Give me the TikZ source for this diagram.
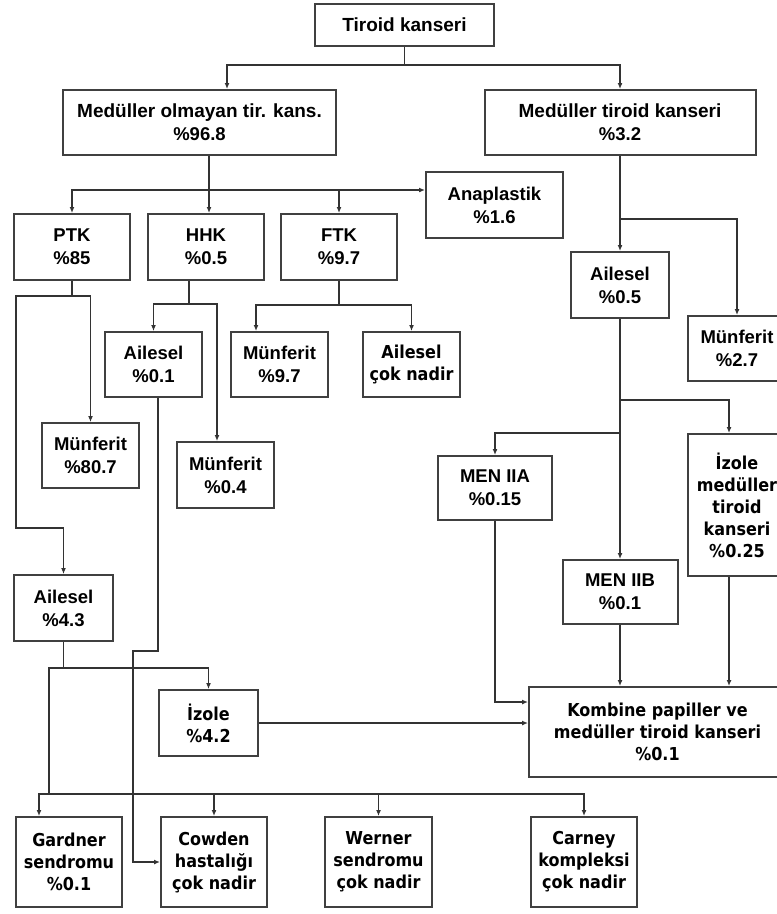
\documentclass[tikz,border=0pt]{standalone}
\usepackage{fontspec}
\setmainfont{Liberation Sans}
\newfontfamily\tahfont[FakeStretch=0.9]{DejaVu Sans}
\usepackage{tikz}
\usetikzlibrary{arrows.meta,positioning}
\begin{document}
\begin{tikzpicture}[x=1pt,y=-1pt]
  \tikzstyle{line}=[draw=black!80,line width=1.6pt,>={Latex[length=6pt,width=5pt]}]
  \tikzstyle{box}=[draw=black!75,line width=2pt,align=center,inner sep=0pt,font=\bfseries\fontsize{18.5}{23}\selectfont]
  \tikzstyle{tbox}=[box,font=\tahfont\bfseries\fontsize{17.8}{22}\selectfont]

  \fill[white] (0,0) rectangle (777,914);
  \useasboundingbox (0,0) rectangle (777,914);

  \node[box,minimum width=179,minimum height=42] (TK) at (404.5,25) {\fontsize{19}{23}\selectfont Tiroid kanseri};
  \node[box,minimum width=273,minimum height=65] (NMT) at (199.5,122.5) {\fontsize{19}{23}\selectfont Medüller olmayan tir. kans.\\\%96.8};
  \node[box,minimum width=271,minimum height=65] (MT) at (620,122.5) {\fontsize{19}{25}\selectfont Medüller tiroid kanseri\\\%3.2};
  \node[box,minimum width=137,minimum height=66] (ANA) at (494.5,205) {Anaplastik\\\%1.6};
  \node[box,minimum width=116,minimum height=66] (PTK) at (72,247) {PTK\\\%85};
  \node[box,minimum width=116,minimum height=66] (HHK) at (206,247) {HHK\\\%0.5};
  \node[box,minimum width=116,minimum height=66] (FTK) at (339,247) {FTK\\\%9.7};
  \node[box,minimum width=98,minimum height=66] (A05) at (620,285) {Ailesel\\\%0.5};
  \node[box,minimum width=98,minimum height=65] (M27) at (737,348.5) {Münferit\\\%2.7};
  \node[box,minimum width=97,minimum height=65] (A01) at (153.5,364.5) {Ailesel\\\%0.1};
  \node[box,minimum width=97,minimum height=65] (M97) at (279.5,364.5) {Münferit\\\%9.7};
  \node[tbox,minimum width=97,minimum height=65] (AN) at (411.5,364.5) {Ailesel\\çok nadir};
  \node[box,minimum width=97,minimum height=65] (M807) at (90.5,455.5) {Münferit\\\%80.7};
  \node[box,minimum width=97,minimum height=66] (M04) at (225.5,475) {Münferit\\\%0.4};
  \node[tbox,minimum width=98,minimum height=142] (IMT) at (737,505) {İzole\\medüller\\tiroid\\kanseri\\\%0.25};
  \node[box,minimum width=114,minimum height=64] (M2A) at (495,488) {MEN IIA\\\%0.15};
  \node[box,minimum width=115,minimum height=64] (M2B) at (620,592) {MEN IIB\\\%0.1};
  \node[box,minimum width=99,minimum height=66] (A43) at (63.5,608) {Ailesel\\\%4.3};
  \node[tbox,minimum width=99,minimum height=66] (IZ) at (208.5,723) {İzole\\\%4.2};
  \node[tbox,minimum width=257,minimum height=90] (KOM) at (657.5,732) {Kombine papiller ve\\medüller tiroid kanseri\\\%0.1};
  \node[tbox,minimum width=106,minimum height=90] (GAR) at (69,862) {Gardner\\sendromu\\\%0.1};
  \node[tbox,minimum width=106,minimum height=90] (COW) at (214,862) {Cowden\\hastalığı\\çok nadir};
  \node[tbox,minimum width=107,minimum height=90] (WER) at (378.5,862) {Werner\\sendromu\\çok nadir};
  \node[tbox,minimum width=106,minimum height=90] (CAR) at (584,862) {Carney\\kompleksi\\çok nadir};

  \coordinate (c1) at (404.5,65);
  \draw[line,->] (TK.south) -- (c1) -| ([xshift=27.5]NMT.north);
  \draw[line,->] (c1) -| (MT.north);

  \coordinate (c2) at (209,190);
  \draw[line] ([xshift=9.5]NMT.south) -- (c2);
  \draw[line,->] (c2) -| (PTK.north);
  \draw[line,->] (c2) -- (c2 |- HHK.north);
  \draw[line,->] (c2) -| (FTK.north);
  \draw[line,->] (c2) -- (ANA.west |- c2);

  \coordinate (c3) at (620,219);
  \draw[line,->] (MT.south) -- (c3) -- (A05.north);
  \draw[line,->] (c3) -| (M27.north);

  \coordinate (c4) at (620,400);
  \coordinate (c5) at (620,433);
  \draw[line,->] (A05.south) -- (M2B.north);
  \draw[line,->] (c4) -| ([xshift=-8]IMT.north);
  \draw[line,->] (c5) -| (M2A.north);

  \coordinate (c6) at (72,296);
  \coordinate (c7) at (16,528);
  \draw[line,->] (PTK.south) -- (c6) -| (M807.north);
  \draw[line,->] (c6) -| (c7) -| (A43.north);

  \coordinate (c8) at (189,304);
  \draw[line] ([xshift=-17]HHK.south) -- (c8);
  \draw[line,->] (c8) -| (A01.north);
  \draw[line,->] (c8) -| ([xshift=-8.5]M04.north);

  \coordinate (c9) at (339,305);
  \draw[line] (FTK.south) -- (c9);
  \draw[line,->] (c9) -| ([xshift=-23.5]M97.north);
  \draw[line,->] (c9) -| (AN.north);

  \coordinate (c10) at (133,651);
  \draw[line,->] ([xshift=4.5]A01.south) |- (c10) |- (COW.west);

  \coordinate (c11) at (63.5,668);
  \coordinate (c12) at (49,794);
  \draw[line,->] (A43.south) -- (c11) -| (IZ.north);
  \draw[line] (c11) -| (c12);
  \draw[line,->] (c12) -| ([xshift=-30]GAR.north);
  \foreach \n in {COW,WER,CAR}
    \draw[line,->] (c12) -| (\n.north);

  \draw[line,->] (IZ.east) -- (IZ.east -| KOM.west);
  \draw[line,->] (M2A.south) |- ([yshift=30]KOM.west);
  \draw[line,->] (M2B.south) -- (M2B.south |- KOM.north);
  \draw[line,->] ([xshift=-8]IMT.south) -- ([xshift=-8]IMT.south |- KOM.north);
\end{tikzpicture}
\end{document}
